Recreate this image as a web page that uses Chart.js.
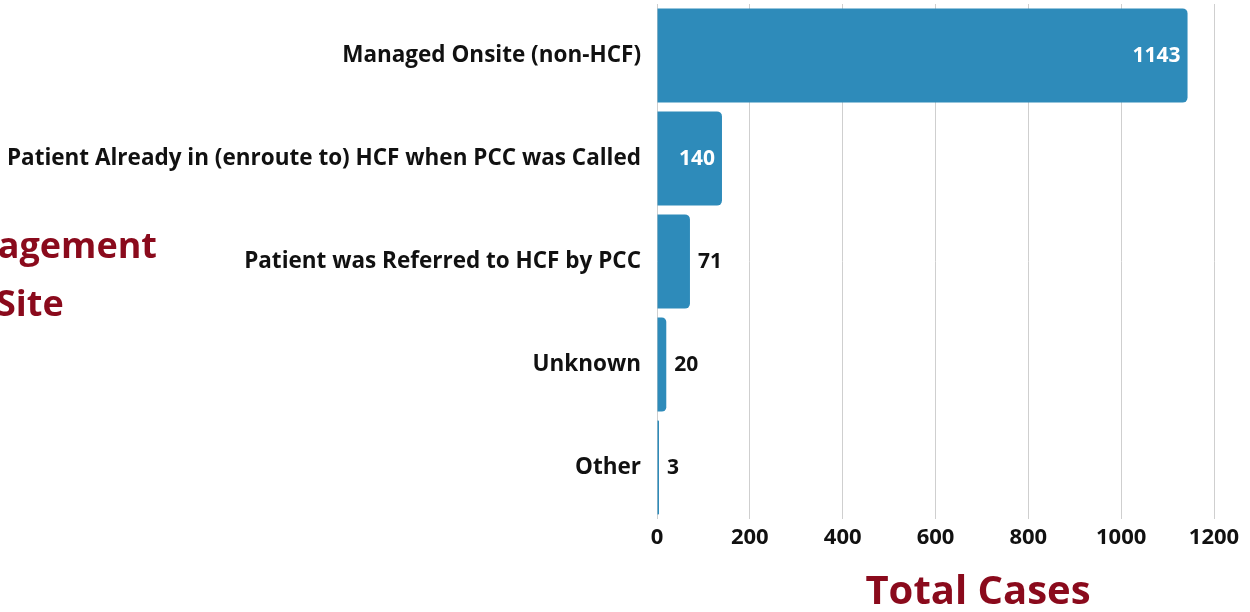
<!DOCTYPE html>
<html>
<head>
<meta charset="utf-8">
<script src="https://cdn.jsdelivr.net/npm/chart.js@4"></script>
<style>
  html, body { margin: 0; padding: 0; background: #fff; }
  #wrap { width: 1250px; height: 612px; }
</style>
</head>
<body>
<div id="wrap"><canvas id="chart" width="1250" height="612"></canvas></div>
<script>
const categories = [
    'Managed Onsite (non-HCF)',
    'Patient Already in (enroute to) HCF when PCC was Called',
    'Patient was Referred to HCF by PCC',
    'Unknown',
    'Other'
];
const totalCases = [1143, 140, 71, 20, 3];
const xTicks = [0, 200, 400, 600, 800, 1000, 1200];

const FONT = '"Open Sans", Inter, sans-serif';
const RED = '#8a0a1c';

// value labels: inside the bar end when there is room, outside otherwise
const barLabels = {
    id: 'barLabels',
    afterDatasetsDraw(chart) {
        const ctx = chart.ctx;
        const meta = chart.getDatasetMeta(0);
        ctx.save();
        ctx.font = 'bold 21px ' + FONT;
        ctx.textBaseline = 'middle';
        meta.data.forEach((bar, i) => {
            const v = String(totalCases[i]);
            const w = bar.x - bar.base;
            if (w > 50) {
                ctx.fillStyle = '#fff';
                ctx.textAlign = 'right';
                ctx.fillText(v, bar.x - 7, bar.y + 1);
            } else {
                ctx.fillStyle = '#111';
                ctx.textAlign = 'left';
                ctx.fillText(v, bar.x + 8, bar.y + 1);
            }
        });
        ctx.restore();
    }
};

// side title (cut off by the left edge in the original) and axis title
const titles = {
    id: 'titles',
    afterDraw(chart) {
        const ctx = chart.ctx;
        ctx.save();
        ctx.fillStyle = RED;
        ctx.font = 'bold 36px ' + FONT;
        ctx.textAlign = 'right';
        ctx.textBaseline = 'middle';
        ctx.fillText('Management', 157, 248);
        ctx.textAlign = 'left';
        ctx.fillText('Site', -4, 306);
        ctx.font = 'bold 40px ' + FONT;
        ctx.textAlign = 'center';
        ctx.fillText('Total Cases', 978, 593);
        ctx.restore();
    }
};

new Chart(document.getElementById('chart'), {
    type: 'bar',
    data: {
        labels: categories,
        datasets: [{
            label: 'Total Cases',
            data: totalCases,
            backgroundColor: '#2e8bba',
            borderRadius: { topRight: 5, bottomRight: 5 },
            borderSkipped: 'start',
            barPercentage: 0.915,
            categoryPercentage: 1.0,
            minBarLength: 2
        }]
    },
    options: {
        indexAxis: 'y',
        responsive: false,
        animation: false,
        layout: { padding: { top: 4, right: 36, left: 0, bottom: 0 } },
        scales: {
            x: {
                min: 0,
                max: 1200,
                afterBuildTicks: s => { s.ticks = xTicks.map(v => ({ value: v })); },
                afterFit: s => { s.height = 93; s.paddingLeft = 0; s.paddingRight = 0; },
                grid: { color: '#cfcfcf', lineWidth: 1, drawTicks: false },
                border: { display: false },
                ticks: {
                    color: '#111',
                    padding: 6,
                    callback: v => String(v),
                    font: { family: FONT, size: 22, weight: 'bold' }
                }
            },
            y: {
                afterFit: s => { s.width = 657; s.paddingTop = 0; s.paddingBottom = 0; },
                grid: { display: false, drawTicks: false },
                border: { display: false },
                ticks: {
                    color: '#111',
                    padding: 16,
                    font: { family: FONT, size: 22.5, weight: 'bold' }
                }
            }
        },
        plugins: {
            legend: { display: false },
            tooltip: { enabled: false }
        }
    },
    plugins: [barLabels, titles]
});
</script>
</body>
</html>
